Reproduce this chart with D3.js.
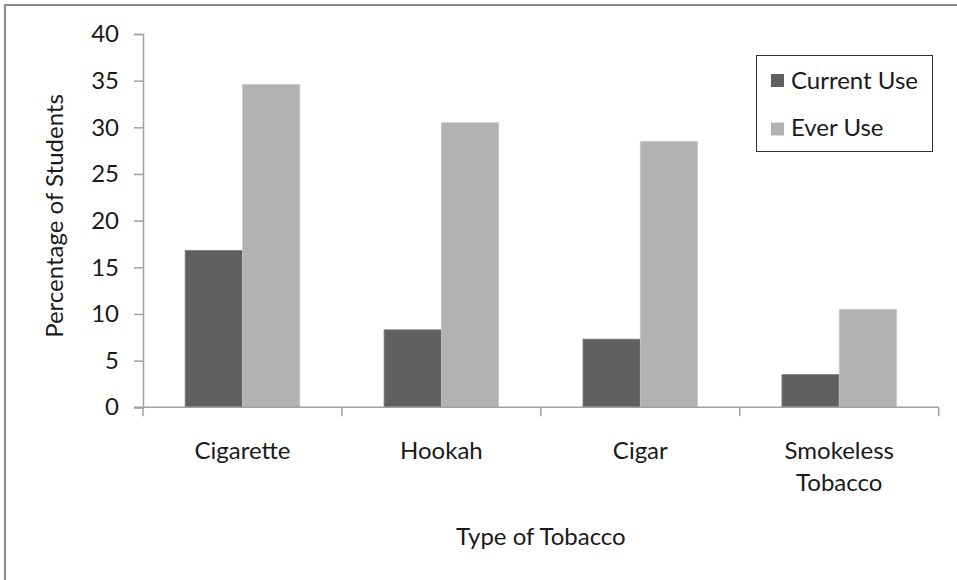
<!DOCTYPE html>
<html>
<head>
<meta charset="utf-8">
<script src="https://cdn.jsdelivr.net/npm/d3@7"></script>
<style>
  html, body { margin: 0; padding: 0; background: #fff; }
  svg { display: block; }
  text { font-family: Lato, "Open Sans", sans-serif; fill: #1a1a1a; }
</style>
</head>
<body>
<svg id="chart" width="957" height="580"></svg>
<script>
// Tobacco use among students, by type
const categories = ["Cigarette", "Hookah", "Cigar", "Smokeless Tobacco"];
const seriesNames = ["Current Use", "Ever Use"];
const currentUse = [16.8, 8.3, 7.3, 3.5];
const everUse = [34.6, 30.5, 28.5, 10.5];
const yTicks = [0, 5, 10, 15, 20, 25, 30, 35, 40];
const colors = ["#606060", "#b2b2b2"];

const svg = d3.select("#chart");
const W = 957, H = 580;
const FS = 24;

// outer frame (top and left edges visible)
svg.append("line").attr("x1", 5).attr("x2", W).attr("y1", 5).attr("y2", 5)
  .attr("stroke", "#8a8a8a").attr("stroke-width", 2);
svg.append("line").attr("x1", 5).attr("x2", 5).attr("y1", 4).attr("y2", H)
  .attr("stroke", "#8a8a8a").attr("stroke-width", 2);

const plot = { left: 143, right: 938.7, top: 34, bottom: 407.3 };

const x = d3.scaleBand().domain(categories).range([plot.left, plot.right]).paddingInner(0).paddingOuter(0);
const y = d3.scaleLinear().domain([0, 40]).range([plot.bottom, plot.top]);
const barW = x.bandwidth() * 0.288;

const rows = categories.map((c, i) => ({ cat: c, values: [currentUse[i], everUse[i]] }));

// bars
const groups = svg.append("g").selectAll("g").data(rows).join("g");
groups.selectAll("rect")
  .data(d => d.values.map((v, j) => ({ cat: d.cat, v, j })))
  .join("rect")
  .attr("x", d => x(d.cat) + x.bandwidth() / 2 + (d.j - 1) * barW)
  .attr("y", d => y(d.v))
  .attr("width", barW)
  .attr("height", d => y(0) - y(d.v))
  .attr("fill", d => colors[d.j])
  .attr("stroke", d => d.j === 0 ? "#7a7a7a" : "#c8c8c8")
  .attr("stroke-width", 0.8);

// y axis
const yAxis = svg.append("g").attr("transform", `translate(${plot.left},0)`)
  .call(d3.axisLeft(y).tickValues(yTicks).tickSize(9).tickPadding(15));
yAxis.select(".domain").attr("stroke", "#a0a0a0").attr("stroke-width", 1.5);
yAxis.selectAll(".tick line").attr("stroke", "#a0a0a0").attr("stroke-width", 1.5);
yAxis.selectAll(".tick text").attr("font-size", FS).attr("font-family", "Lato, sans-serif").attr("fill", "#1a1a1a");

// x axis: ticks at category boundaries
const boundaries = categories.map(c => x(c)).concat([plot.right]);
const xAxisG = svg.append("g").attr("transform", `translate(0,${plot.bottom})`);
xAxisG.append("line").attr("x1", plot.left - 9).attr("x2", plot.right).attr("y1", 0).attr("y2", 0)
  .attr("stroke", "#a0a0a0").attr("stroke-width", 1.5);
xAxisG.selectAll("line.tk").data(boundaries).join("line").attr("class", "tk")
  .attr("x1", d => d).attr("x2", d => d).attr("y1", 0).attr("y2", 9)
  .attr("stroke", "#a0a0a0").attr("stroke-width", 1.5);

// category labels (wrapped)
const catLabels = svg.append("g").selectAll("text").data(categories).join("text")
  .attr("x", d => x(d) + x.bandwidth() / 2)
  .attr("y", 459)
  .attr("text-anchor", "middle")
  .attr("font-size", FS);
catLabels.each(function(d) {
  const words = d === "Smokeless Tobacco" ? ["Smokeless", "Tobacco"] : [d];
  d3.select(this).selectAll("tspan").data(words).join("tspan")
    .attr("x", x(d) + x.bandwidth() / 2)
    .attr("dy", (w, i) => i === 0 ? 0 : 32)
    .text(w => w);
});

// axis titles
svg.append("text").attr("x", (plot.left + plot.right) / 2).attr("y", 545)
  .attr("text-anchor", "middle").attr("font-size", FS).text("Type of Tobacco");
svg.append("text").attr("transform", `translate(63,216) rotate(-90)`)
  .attr("text-anchor", "middle").attr("font-size", FS).text("Percentage of Students");

// legend
const lg = svg.append("g");
lg.append("rect").attr("x", 756.5).attr("y", 55.5).attr("width", 176).attr("height", 96)
  .attr("fill", "#fff").attr("stroke", "#333").attr("stroke-width", 1);
const swatchY = [74, 122.5];
const labelY = [89, 136];
seriesNames.forEach((name, i) => {
  lg.append("rect").attr("x", 771).attr("y", swatchY[i]).attr("width", 13).attr("height", 13)
    .attr("fill", colors[i]);
  lg.append("text").attr("x", 791).attr("y", labelY[i]).attr("font-size", FS).text(name);
});
</script>
</body>
</html>
